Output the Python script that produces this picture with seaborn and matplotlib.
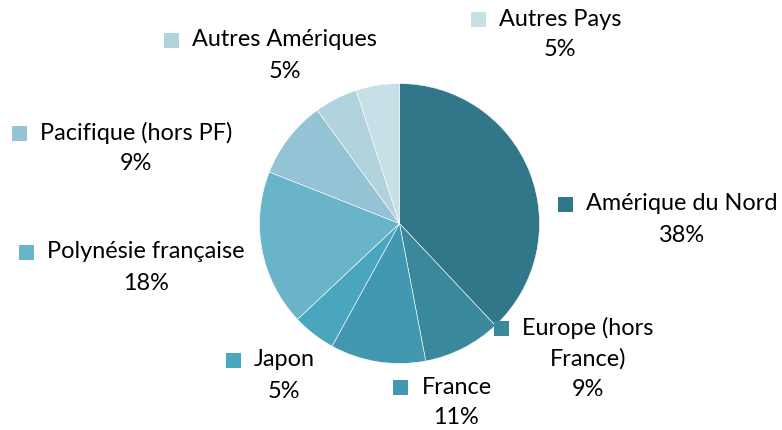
import matplotlib
matplotlib.use("Agg")
import matplotlib.pyplot as plt
import seaborn as sns
from matplotlib.patches import Rectangle

# --- datos ---
regions = ["Amérique du Nord", "Europe (hors\nFrance)", "France", "Japon",
           "Polynésie française", "Pacifique (hors PF)", "Autres Amériques", "Autres Pays"]
shares = [38, 9, 11, 5, 18, 9, 5, 5]
colors = ["#327789", "#3a889c", "#4298b0", "#4aa6bf",
          "#6ab4ca", "#93c3d4", "#b1d3de", "#c7dfe6"]

# posicion de las etiquetas (centro del texto, en pixeles desde arriba)
label_pos = [(681.5, 204), (588, 328), (456.5, 387), (284, 360),
             (146, 252), (136, 133), (284.5, 40), (560, 19)]

sns.set_theme(style="white")
plt.rcParams["font.family"] = ["Lato", "DejaVu Sans"]

W, H = 782, 430
fig = plt.figure(figsize=(W / 100, H / 100), dpi=100)
fig.patch.set_facecolor("white")

# pie: centro (399.5, 223.5), radio 140 px
cx, cy, r = 399.5, 223.5, 140
ax = fig.add_axes([(cx - r) / W, (H - cy - r) / H, 2 * r / W, 2 * r / H])
ax.pie(shares, colors=colors, startangle=90, counterclock=False, radius=1,
       wedgeprops=dict(edgecolor="white", linewidth=0.4))
ax.set_xlim(-1, 1)
ax.set_ylim(-1, 1)
ax.set_aspect("equal")
ax.axis("off")

fs = 16.9
step = 31
renderer = fig.canvas.get_renderer()
for name, pct, col, (x, y) in zip(regions, shares, colors, label_pos):
    lines = name.split("\n") + [f"{pct}%"]
    first = None
    for i, line in enumerate(lines):
        t = fig.text(x / W, 1 - (y + i * step) / H, line, ha="center", va="center",
                     fontsize=fs, color="black")
        if i == 0:
            first = t
    bb = first.get_window_extent(renderer=renderer)
    left = bb.x0
    sq = 15
    fig.patches.append(Rectangle(((left - 13 - sq) / W, (H - y - sq / 2) / H), sq / W, sq / H,
                                 transform=fig.transFigure, facecolor=col, edgecolor="none"))

fig.savefig("out.png", dpi=100)
